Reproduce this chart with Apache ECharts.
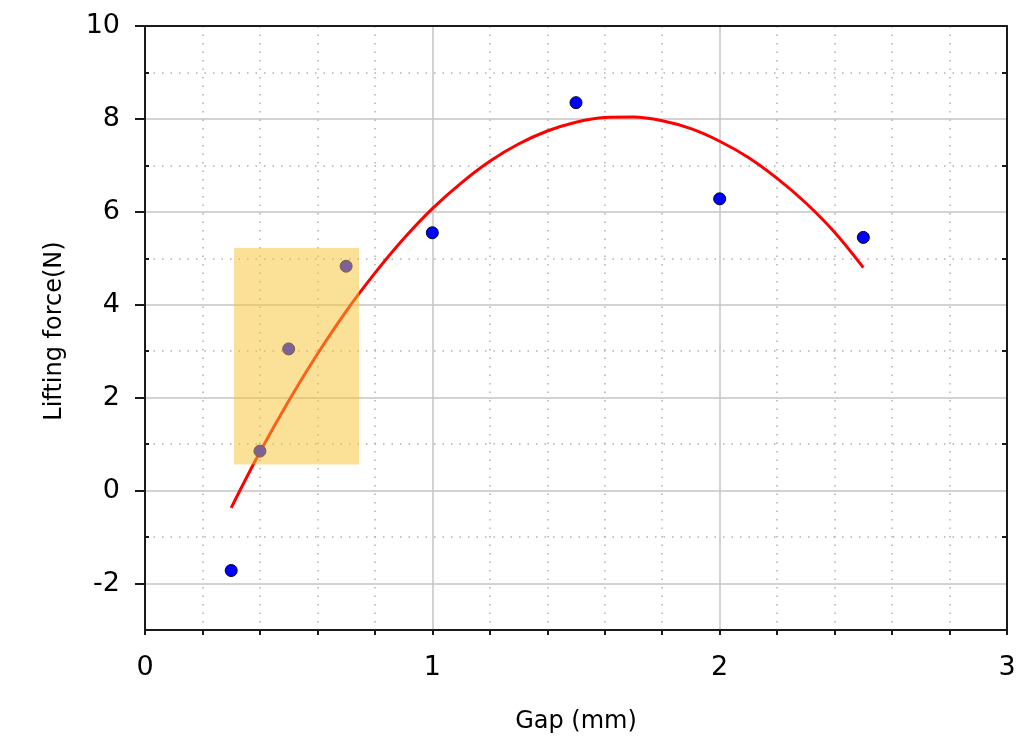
<!DOCTYPE html>
<html>
<head>
<meta charset="utf-8">
<script src="https://cdn.jsdelivr.net/npm/echarts@6/dist/echarts.min.js"></script>
<style>
html,body{margin:0;padding:0;background:#fff;}
#chart{width:1032px;height:745px;}
</style>
</head>
<body>
<div id="chart"></div>
<script>
// Measured data points
var gap = [0.3, 0.4, 0.5, 0.7, 1.0, 1.5, 2.0, 2.5];
var force = [-1.72, 0.85, 3.05, 4.83, 5.55, 8.35, 6.28, 5.45];

// Fitted curve
var fitX = [0.3, 0.4, 0.5, 0.6, 0.7, 0.8, 0.9, 1.0, 1.1, 1.2, 1.3, 1.4, 1.5, 1.6, 1.7, 1.8, 1.9, 2.0, 2.1, 2.2, 2.3, 2.4, 2.5];
var fitY = [-0.37, 0.83, 1.93, 2.94, 3.86, 4.68, 5.42, 6.07, 6.62, 7.09, 7.46, 7.74, 7.93, 8.03, 8.04, 7.96, 7.79, 7.52, 7.17, 6.72, 6.19, 5.56, 4.8];

// Highlighted region
var boxX = [0.31, 0.745];
var boxY = [0.56, 5.22];

// Tick values
var yMajor = [-2, 0, 2, 4, 6, 8, 10];
var yMinor = [-1, 1, 3, 5, 7, 9];

var FONT = 'DejaVu Sans';
var axisColor = '#1a1a1a';
var gridSolid = '#c4c4c4';
var gridDot = '#b0b0b0';

var chart = echarts.init(document.getElementById('chart'), null, {renderer: 'canvas'});

var option = {
  animation: false,
  backgroundColor: '#ffffff',
  grid: {left: 145, right: 25, top: 26, bottom: 115, show: false},
  xAxis: [{
    type: 'value', min: 0, max: 3, interval: 1, position: 'bottom',
    name: 'Gap (mm)', nameLocation: 'middle', nameGap: 80,
    nameTextStyle: {fontFamily: FONT, fontSize: 24, color: '#000'},
    axisLine: {show: true, onZero: false, lineStyle: {color: axisColor, width: 2}},
    axisTick: {show: true, inside: false, length: 5, lineStyle: {color: axisColor, width: 2}},
    minorTick: {show: true, splitNumber: 5, length: 5, lineStyle: {color: axisColor, width: 2}},
    axisLabel: {fontFamily: FONT, fontSize: 27, color: '#000', margin: 24},
    splitLine: {show: true, lineStyle: {color: gridSolid, width: 1.5}},
    minorSplitLine: {show: true, lineStyle: {color: gridDot, width: 1.5, type: [1.5, 7]}}
  }, {
    type: 'value', min: 0, max: 3, interval: 1, position: 'top',
    axisLine: {show: true, onZero: false, lineStyle: {color: axisColor, width: 2}},
    axisTick: {show: false},
    axisLabel: {show: false},
    splitLine: {show: false}
  }],
  yAxis: [{
    type: 'value', min: -3, max: 10, interval: 1, position: 'left',
    axisLine: {show: true, onZero: false, lineStyle: {color: axisColor, width: 2}},
    axisTick: {show: true, inside: false, length: 10, customValues: yMajor, lineStyle: {color: axisColor, width: 2}},
    axisLabel: {fontFamily: FONT, fontSize: 27, color: '#000', margin: 25, customValues: yMajor},
    splitLine: {show: true, lineStyle: {color: gridSolid, width: 1.5}}
  }, {
    type: 'value', min: -3, max: 10, interval: 1, position: 'left',
    axisLine: {show: false},
    axisTick: {show: true, inside: true, length: 4, customValues: yMinor, lineStyle: {color: axisColor, width: 2}},
    axisLabel: {show: false},
    splitLine: {show: true, lineStyle: {color: gridDot, width: 1.5, type: [1.5, 7]}}
  }, {
    type: 'value', min: -3, max: 10, interval: 1, position: 'right',
    axisLine: {show: true, onZero: false, lineStyle: {color: axisColor, width: 2}},
    axisTick: {show: true, inside: true, length: 5, customValues: yMinor, lineStyle: {color: axisColor, width: 2}},
    axisLabel: {show: false},
    splitLine: {show: false}
  }],
  graphic: [{
    type: 'text', x: 55, y: 331, rotation: Math.PI / 2,
    style: {text: 'Lifting force(N)', font: '24px "DejaVu Sans"', fill: '#000', align: 'center', verticalAlign: 'middle'}
  }],
  series: [{
    type: 'line', name: 'fit', z: 3,
    data: fitX.map(function (x, i) { return [x, fitY[i]]; }),
    smooth: 0.35, showSymbol: false, symbol: 'none',
    lineStyle: {color: '#ff0000', width: 3}
  }, {
    type: 'scatter', name: 'data', z: 4,
    data: gap.map(function (x, i) { return [x, force[i]]; }),
    symbol: 'circle', symbolSize: 12,
    itemStyle: {color: '#0000ff', borderColor: '#000033', borderWidth: 1, opacity: 1}
  }, {
    type: 'scatter', name: 'box', z: 10, data: [],
    markArea: {
      z: 10, silent: true,
      itemStyle: {color: 'rgba(248,195,50,0.5)', borderWidth: 0},
      data: [[{coord: [boxX[0], boxY[1]]}, {coord: [boxX[1], boxY[0]]}]]
    }
  }]
};
chart.setOption(option);
</script>
</body>
</html>
